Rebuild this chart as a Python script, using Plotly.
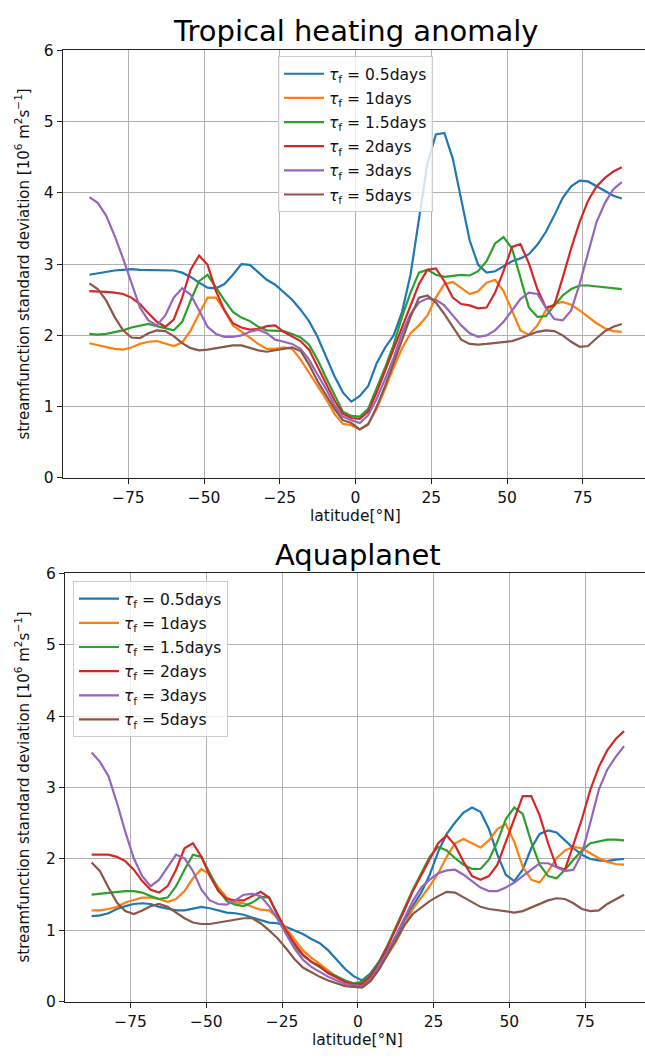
import numpy as np
import plotly.graph_objects as go

# Gaussian-grid latitudes (64 points, T42)
lat = [-87.86, -85.10, -82.31, -79.53, -76.74, -73.95, -71.16, -68.37, -65.58, -62.79,
       -60.00, -57.21, -54.42, -51.63, -48.84, -46.05, -43.26, -40.47, -37.67, -34.88,
       -32.09, -29.30, -26.51, -23.72, -20.93, -18.14, -15.35, -12.56, -9.77, -6.98,
       -4.19, -1.40,
       1.40, 4.19, 6.98, 9.77, 12.56, 15.35, 18.14, 20.93, 23.72, 26.51, 29.30, 32.09,
       34.88, 37.67, 40.47, 43.26, 46.05, 48.84, 51.63, 54.42, 57.21, 60.00, 62.79,
       65.58, 68.37, 71.16, 73.95, 76.74, 79.53, 82.31, 85.10, 87.86]

labels = ["0.5", "1", "1.5", "2", "3", "5"]
colors = ["#1f77b4", "#ff7f0e", "#2ca02c", "#d62728", "#9467bd", "#8c564b"]

# ---- Tropical heating anomaly ----
th_05 = [2.85, 2.87, 2.89, 2.91, 2.92, 2.93, 2.92, 2.92, 2.91, 2.91, 2.91, 2.88, 2.82, 2.74, 2.67, 2.66,
         2.72, 2.85, 3.00, 2.99, 2.89, 2.78, 2.71, 2.61, 2.50, 2.36, 2.20, 1.98, 1.71, 1.43, 1.20, 1.07,
         1.15, 1.29, 1.61, 1.83, 2.00, 2.33, 2.85, 3.63, 4.41, 4.82, 4.84, 4.48, 3.91, 3.33, 2.99, 2.88,
         2.90, 2.97, 3.04, 3.08, 3.14, 3.27, 3.45, 3.68, 3.93, 4.09, 4.17, 4.16, 4.09, 4.02, 3.96, 3.92]
th_1 = [1.89, 1.86, 1.83, 1.81, 1.80, 1.83, 1.88, 1.91, 1.92, 1.89, 1.85, 1.90, 2.07, 2.30, 2.53, 2.53,
        2.35, 2.14, 2.05, 1.96, 1.88, 1.81, 1.81, 1.83, 1.81, 1.66, 1.48, 1.29, 1.11, 0.90, 0.76, 0.74,
        0.68, 0.76, 0.97, 1.25, 1.55, 1.82, 2.03, 2.14, 2.28, 2.53, 2.72, 2.75, 2.66, 2.58, 2.62, 2.74,
        2.78, 2.62, 2.35, 2.07, 2.01, 2.14, 2.35, 2.44, 2.47, 2.43, 2.35, 2.26, 2.17, 2.10, 2.06, 2.05]
th_15 = [2.02, 2.01, 2.02, 2.04, 2.07, 2.11, 2.14, 2.16, 2.13, 2.10, 2.07, 2.19, 2.49, 2.76, 2.85, 2.67,
         2.49, 2.33, 2.25, 2.20, 2.12, 2.07, 2.06, 2.06, 2.02, 1.97, 1.87, 1.66, 1.41, 1.16, 0.93, 0.87,
         0.86, 0.97, 1.25, 1.55, 1.87, 2.26, 2.60, 2.88, 2.92, 2.85, 2.82, 2.84, 2.85, 2.84, 2.90, 3.04,
         3.29, 3.38, 3.22, 2.81, 2.39, 2.26, 2.27, 2.42, 2.56, 2.65, 2.70, 2.70, 2.69, 2.68, 2.66, 2.65]
th_2 = [2.62, 2.62, 2.61, 2.60, 2.58, 2.53, 2.44, 2.31, 2.19, 2.12, 2.22, 2.53, 2.92, 3.12, 2.99, 2.62,
        2.35, 2.17, 2.11, 2.08, 2.09, 2.13, 2.14, 2.05, 1.98, 1.92, 1.80, 1.57, 1.32, 1.09, 0.90, 0.84,
        0.83, 0.93, 1.20, 1.50, 1.80, 2.10, 2.42, 2.72, 2.92, 2.94, 2.76, 2.53, 2.44, 2.42, 2.38, 2.39,
        2.60, 2.90, 3.24, 3.28, 3.01, 2.65, 2.39, 2.42, 2.81, 3.22, 3.59, 3.89, 4.09, 4.21, 4.30, 4.36]
th_3 = [3.94, 3.86, 3.68, 3.40, 3.08, 2.72, 2.39, 2.21, 2.14, 2.28, 2.53, 2.66, 2.57, 2.35, 2.12, 2.02,
        1.98, 1.98, 2.00, 2.05, 2.08, 2.03, 1.94, 1.91, 1.88, 1.81, 1.66, 1.45, 1.25, 1.02, 0.86, 0.81,
        0.77, 0.88, 1.11, 1.39, 1.68, 2.03, 2.30, 2.46, 2.52, 2.50, 2.42, 2.28, 2.14, 2.03, 1.98, 2.00,
        2.07, 2.19, 2.35, 2.51, 2.60, 2.58, 2.39, 2.23, 2.21, 2.35, 2.72, 3.17, 3.59, 3.86, 4.05, 4.15]
th_5 = [2.73, 2.65, 2.49, 2.26, 2.07, 1.97, 1.96, 2.03, 2.07, 2.06, 1.99, 1.89, 1.82, 1.79, 1.80, 1.82,
        1.85, 1.86, 1.86, 1.82, 1.79, 1.77, 1.79, 1.82, 1.83, 1.78, 1.59, 1.36, 1.16, 0.97, 0.81, 0.77,
        0.68, 0.75, 1.00, 1.29, 1.61, 1.94, 2.26, 2.53, 2.56, 2.46, 2.30, 2.12, 1.94, 1.88, 1.87, 1.88,
        1.89, 1.90, 1.92, 1.96, 2.00, 2.05, 2.07, 2.06, 2.00, 1.91, 1.84, 1.85, 1.96, 2.06, 2.12, 2.16]

# ---- Aquaplanet ----
aq_05 = [1.20, 1.21, 1.24, 1.30, 1.34, 1.37, 1.38, 1.37, 1.33, 1.30, 1.28, 1.28, 1.31, 1.33, 1.31, 1.28,
         1.25, 1.24, 1.22, 1.18, 1.14, 1.11, 1.10, 1.05, 1.00, 0.95, 0.88, 0.82, 0.72, 0.59, 0.46, 0.36,
         0.30, 0.40, 0.56, 0.72, 0.91, 1.14, 1.34, 1.53, 1.78, 2.10, 2.35, 2.51, 2.65, 2.72, 2.66, 2.42,
         2.06, 1.78, 1.69, 1.85, 2.15, 2.35, 2.40, 2.37, 2.26, 2.15, 2.06, 2.00, 1.98, 1.97, 1.99, 2.00]
aq_1 = [1.28, 1.28, 1.30, 1.33, 1.39, 1.43, 1.46, 1.46, 1.44, 1.40, 1.44, 1.55, 1.73, 1.86, 1.78, 1.60,
        1.46, 1.39, 1.38, 1.33, 1.29, 1.28, 1.18, 1.03, 0.87, 0.72, 0.62, 0.53, 0.44, 0.35, 0.28, 0.24,
        0.22, 0.33, 0.47, 0.66, 0.84, 1.07, 1.30, 1.46, 1.62, 1.80, 2.03, 2.22, 2.28, 2.22, 2.16, 2.26,
        2.42, 2.49, 2.24, 1.89, 1.71, 1.67, 1.83, 2.01, 2.12, 2.17, 2.15, 2.08, 2.01, 1.96, 1.93, 1.92]
aq_15 = [1.50, 1.51, 1.53, 1.54, 1.55, 1.55, 1.53, 1.48, 1.44, 1.46, 1.62, 1.85, 2.06, 2.03, 1.80, 1.57,
         1.41, 1.36, 1.34, 1.39, 1.47, 1.46, 1.21, 0.98, 0.79, 0.65, 0.56, 0.48, 0.41, 0.36, 0.30, 0.26,
         0.28, 0.38, 0.56, 0.79, 1.05, 1.30, 1.57, 1.80, 2.03, 2.17, 2.12, 2.01, 1.92, 1.86, 1.86, 1.99,
         2.24, 2.56, 2.72, 2.63, 2.24, 1.92, 1.76, 1.73, 1.85, 1.99, 2.12, 2.22, 2.25, 2.27, 2.27, 2.26]
aq_2 = [2.06, 2.06, 2.06, 2.03, 1.97, 1.85, 1.69, 1.57, 1.53, 1.62, 1.85, 2.15, 2.22, 2.03, 1.76, 1.55,
        1.44, 1.42, 1.42, 1.48, 1.54, 1.46, 1.23, 1.00, 0.82, 0.66, 0.56, 0.50, 0.40, 0.34, 0.28, 0.25,
        0.25, 0.36, 0.54, 0.77, 1.02, 1.28, 1.55, 1.78, 1.99, 2.22, 2.33, 2.19, 1.96, 1.76, 1.71, 1.76,
        1.92, 2.24, 2.56, 2.88, 2.88, 2.61, 2.22, 1.89, 1.85, 2.19, 2.56, 2.97, 3.29, 3.52, 3.68, 3.79]
aq_3 = [3.49, 3.36, 3.16, 2.79, 2.38, 2.01, 1.76, 1.62, 1.71, 1.89, 2.06, 2.01, 1.83, 1.57, 1.42, 1.37,
        1.36, 1.42, 1.50, 1.51, 1.48, 1.34, 1.16, 0.95, 0.75, 0.59, 0.49, 0.42, 0.35, 0.30, 0.25, 0.23,
        0.22, 0.31, 0.50, 0.70, 0.93, 1.18, 1.41, 1.60, 1.71, 1.80, 1.84, 1.85, 1.78, 1.69, 1.60, 1.55,
        1.55, 1.60, 1.67, 1.76, 1.85, 1.94, 1.94, 1.88, 1.83, 1.85, 2.08, 2.51, 2.97, 3.25, 3.43, 3.58]
aq_5 = [1.95, 1.83, 1.60, 1.39, 1.27, 1.23, 1.28, 1.34, 1.37, 1.33, 1.25, 1.17, 1.11, 1.09, 1.09, 1.11,
        1.14, 1.16, 1.17, 1.17, 1.10, 1.00, 0.89, 0.75, 0.60, 0.48, 0.41, 0.35, 0.30, 0.26, 0.22, 0.21,
        0.20, 0.29, 0.45, 0.66, 0.86, 1.07, 1.23, 1.32, 1.41, 1.48, 1.54, 1.53, 1.46, 1.39, 1.33, 1.30,
        1.28, 1.26, 1.25, 1.27, 1.32, 1.38, 1.42, 1.45, 1.44, 1.38, 1.30, 1.27, 1.28, 1.37, 1.44, 1.50]

x_ticks = [-75, -50, -25, 0, 25, 50, 75]
y_ticks = [0, 1, 2, 3, 4, 5, 6]

top_series = [th_05, th_1, th_15, th_2, th_3, th_5]
bot_series = [aq_05, aq_1, aq_15, aq_2, aq_3, aq_5]

W, H = 645, 1060
FONT = "DejaVu Sans"
TICK = 15.5

fig = go.Figure()
for i, (lab, col) in enumerate(zip(labels, colors)):
    name = f"<i>τ</i><sub>f</sub> = {lab}days"
    fig.add_trace(go.Scatter(x=lat, y=top_series[i], mode="lines", name=name,
                             line=dict(color=col, width=2.2), xaxis="x", yaxis="y",
                             legend="legend", legendgroup=f"t{i}"))
for i, (lab, col) in enumerate(zip(labels, colors)):
    name = f"<i>τ</i><sub>f</sub> = {lab}days"
    fig.add_trace(go.Scatter(x=lat, y=bot_series[i], mode="lines", name=name,
                             line=dict(color=col, width=2.2), xaxis="x2", yaxis="y2",
                             legend="legend2", legendgroup=f"b{i}"))

# pixel geometry
px_per_deg = 3.03
top_l, top_t, top_b = 62.7, 42, 477
bot_l, bot_t, bot_b = 65.0, 574, 1010

def xr(left):
    return [-96.65, -96.65 + (W - left) / px_per_deg]

axis_common = dict(showgrid=True, gridcolor="#b0b0b0", gridwidth=1.1,
                   showline=True, linecolor="#222222", linewidth=1.2,
                   ticks="outside", ticklen=5, tickwidth=1.2, tickcolor="#222222",
                   tickfont=dict(family=FONT, size=TICK, color="#111111"),
                   zeroline=False, fixedrange=True)

legend_common = dict(xanchor="left", yanchor="top",
                     bgcolor="rgba(255,255,255,0.8)", bordercolor="#cccccc", borderwidth=1,
                     font=dict(family=FONT, size=15.5, color="#111111"),
                     traceorder="grouped", tracegroupgap=1, itemwidth=40)

fig.update_layout(
    width=W, height=H,
    margin=dict(l=0, r=0, t=0, b=0),
    paper_bgcolor="white", plot_bgcolor="white",
    font=dict(family=FONT, color="#111111"),
    xaxis=dict(domain=[top_l / W, 1], range=xr(top_l), tickvals=x_ticks,
               anchor="y", mirror=True, **axis_common),
    yaxis=dict(domain=[1 - top_b / H, 1 - top_t / H], range=[0, 6], tickvals=y_ticks,
               anchor="x", **axis_common),
    xaxis2=dict(domain=[bot_l / W, 1], range=xr(bot_l), tickvals=x_ticks,
                anchor="y2", mirror=True, **axis_common),
    yaxis2=dict(domain=[1 - bot_b / H, 1 - bot_t / H], range=[0, 6], tickvals=y_ticks,
                anchor="x2", **axis_common),
    legend=dict(x=278 / W, y=1 - 48 / H, **legend_common),
    legend2=dict(x=73 / W, y=1 - 582 / H, **legend_common),
    showlegend=True,
)

ylab = "streamfunction standard deviation [10<sup>6</sup> m<sup>2</sup>s<sup>−1</sup>]"
ann = []
ann.append(dict(text="Tropical heating anomaly", x=355.5 / W, y=1 - 22 / H, xref="paper", yref="paper",
                showarrow=False, xanchor="center", yanchor="middle",
                font=dict(family=FONT, size=29, color="#000000")))
ann.append(dict(text="Aquaplanet", x=357.7 / W, y=1 - 555 / H, xref="paper", yref="paper",
                showarrow=False, xanchor="center", yanchor="middle",
                font=dict(family=FONT, size=29, color="#000000")))
ann.append(dict(text="latitude[°N]", x=355.5 / W, y=1 - 516 / H, xref="paper", yref="paper",
                showarrow=False, xanchor="center", yanchor="middle",
                font=dict(family=FONT, size=15.5, color="#111111")))
ann.append(dict(text="latitude[°N]", x=357.7 / W, y=1 - 1049 / H, xref="paper", yref="paper",
                showarrow=False, xanchor="center", yanchor="middle",
                font=dict(family=FONT, size=15.5, color="#111111")))
ann.append(dict(text=ylab, x=22 / W, y=1 - 260 / H, xref="paper", yref="paper", textangle=-90,
                showarrow=False, xanchor="center", yanchor="middle",
                font=dict(family=FONT, size=15, color="#111111")))
ann.append(dict(text=ylab, x=22 / W, y=1 - 792 / H, xref="paper", yref="paper", textangle=-90,
                showarrow=False, xanchor="center", yanchor="middle",
                font=dict(family=FONT, size=15, color="#111111")))
fig.update_layout(annotations=ann)

fig.write_html("out.html", config={"displayModeBar": False},
               post_script="document.body.style.margin='0px';document.body.style.overflow='hidden';")
